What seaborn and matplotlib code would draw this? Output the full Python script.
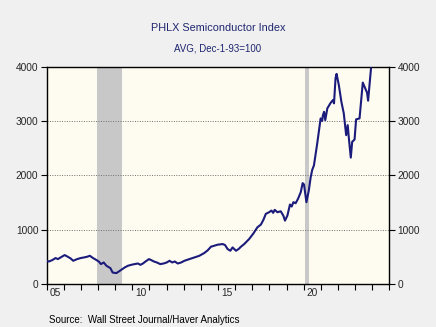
import matplotlib
matplotlib.use("Agg")
import matplotlib.pyplot as plt
import seaborn as sns
import pandas as pd

# ---- data (decimal year, index level) ----
dates = [2005.00, 2005.13, 2005.33, 2005.52, 2005.66, 2005.81, 2006.05, 2006.20,
         2006.40, 2006.55, 2006.78, 2006.98, 2007.17, 2007.36, 2007.52, 2007.71,
         2007.91, 2008.04, 2008.17, 2008.33, 2008.49, 2008.72, 2008.85, 2009.07,
         2009.26, 2009.55, 2009.74, 2009.94, 2010.13, 2010.33, 2010.47, 2010.62,
         2010.77, 2010.97, 2011.10, 2011.26, 2011.43, 2011.63, 2011.82, 2012.01,
         2012.17, 2012.33, 2012.48, 2012.65, 2012.85, 2013.04, 2013.33, 2013.62,
         2013.91, 2014.20, 2014.40, 2014.59, 2014.78, 2014.98, 2015.27, 2015.41,
         2015.56, 2015.72, 2015.85, 2016.05, 2016.20, 2016.34, 2016.53, 2016.82,
         2017.07, 2017.30, 2017.50, 2017.65, 2017.79, 2017.98, 2018.12, 2018.22,
         2018.31, 2018.47, 2018.66, 2018.81, 2018.91, 2019.05, 2019.20, 2019.30,
         2019.40, 2019.53, 2019.67, 2019.83, 2019.94, 2020.02, 2020.16, 2020.30,
         2020.41, 2020.50, 2020.60, 2020.79, 2020.99, 2021.08, 2021.12, 2021.19,
         2021.26, 2021.38, 2021.58, 2021.71, 2021.77, 2021.86, 2021.92, 2022.05,
         2022.20, 2022.34, 2022.48, 2022.57, 2022.63, 2022.75, 2022.83, 2022.97,
         2023.06, 2023.26, 2023.45, 2023.70, 2023.76, 2023.93]
values = [427, 414, 440, 477, 458, 488, 532, 507,
          470, 427, 458, 477, 488, 501, 519, 477,
          440, 414, 366, 396, 335, 292, 211, 200,
          240, 303, 335, 353, 366, 377, 353, 377,
          414, 458, 440, 414, 396, 366, 377, 396,
          427, 396, 414, 377, 396, 427, 458, 488,
          519, 570, 620, 686, 704, 723, 735, 717,
          643, 612, 673, 612, 643, 686, 735, 828,
          932, 1043, 1092, 1180, 1290, 1320, 1351, 1309,
          1364, 1320, 1338, 1259, 1166, 1259, 1462, 1425,
          1505, 1486, 1567, 1690, 1856, 1830, 1505, 1721,
          1967, 2100, 2183, 2584, 3046, 3000, 3100, 3168,
          3015, 3231, 3335, 3384, 3323, 3786, 3865, 3662,
          3353, 3139, 2738, 2922, 2706, 2325, 2614, 2658,
          3028, 3046, 3705, 3519, 3372, 3970]

recession_starts = [2007.92, 2020.08]
recession_ends = [2009.42, 2020.33]

year_ticks = list(range(2005, 2026))
label_positions = [2005.5, 2010.5, 2015.5, 2020.5]
x_labels = ["05", "10", "15", "20"]
y_ticks = [0, 1000, 2000, 3000, 4000]

title = "PHLX Semiconductor Index"
subtitle = "AVG, Dec-1-93=100"
source = "Source:  Wall Street Journal/Haver Analytics"

# ---- plotting ----
sns.set_style("ticks")
plt.rcParams["font.family"] = ["Liberation Sans", "DejaVu Sans"]

df = pd.DataFrame({"date": dates, "value": values})

fig = plt.figure(figsize=(4.36, 3.27), dpi=100, facecolor="#F0F0F0")
ax = fig.add_axes([0.107, 0.1315, 0.786, 0.665])
ax.set_facecolor("#FEFBF0")

for s, e in zip(recession_starts, recession_ends):
    ax.axvspan(s, e, color="#C8C8C8", lw=0, zorder=1)

sns.lineplot(data=df, x="date", y="value", ax=ax, color="#1B1B7C", lw=1.5, zorder=3)

ax.set_xlim(2005, 2025)
ax.set_ylim(0, 4000)
ax.set_xlabel("")
ax.set_ylabel("")

for yv in y_ticks[1:-1]:
    ax.axhline(yv, color="#707070", lw=0.7, ls=(0, (1, 1.5)), zorder=2)

ax.set_xticks(year_ticks)
ax.set_xticklabels([""] * len(year_ticks))
ax.set_xticks(label_positions, minor=True)
ax.set_xticklabels(x_labels, minor=True)
ax.tick_params(axis="x", which="major", length=4, width=0.8, direction="out", color="black")
ax.tick_params(axis="x", which="minor", length=0, labelsize=7.3, pad=3)

ax.set_yticks(y_ticks)
ax.set_yticklabels([str(v) for v in y_ticks])
ax.tick_params(axis="y", which="major", length=4, width=0.8, direction="out",
               left=True, right=True, labelleft=True, labelright=True,
               labelsize=7.3, color="black", pad=2)

for sp in ax.spines.values():
    sp.set_visible(True)
    sp.set_color("black")
    sp.set_linewidth(1.0)

fig.text(0.5, 0.915, title, ha="center", va="center", fontsize=7.8, color="#1F2670")
fig.text(0.5, 0.853, subtitle, ha="center", va="center", fontsize=7.0, color="#1F2670")
fig.text(0.112, 0.022, source, ha="left", va="center", fontsize=7.0, color="black")

fig.savefig("out.png", dpi=100, facecolor=fig.get_facecolor())
